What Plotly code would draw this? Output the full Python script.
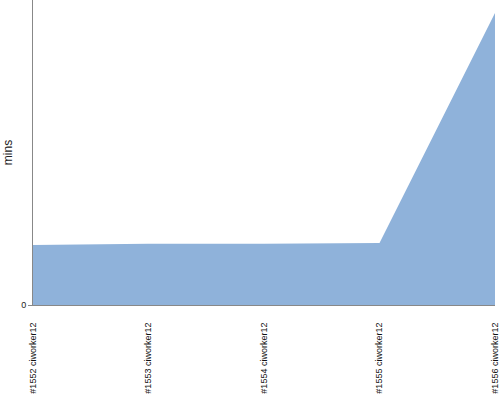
import plotly.graph_objects as go

builds = ["#1552", "#1553", "#1554", "#1555", "#1556"]
workers = ["ciworker12", "ciworker12", "ciworker12", "ciworker12", "ciworker12"]
mins = [60, 61.3, 61.3, 62, 292]

labels = [f"{b} {w}" for b, w in zip(builds, workers)]

fig = go.Figure()
fig.add_trace(go.Scatter(
    x=list(range(len(labels))), y=mins,
    mode="lines", fill="tozeroy",
    fillcolor="#8fb2da", line=dict(color="#8fb2da", width=0),
    hoverinfo="skip", showlegend=False,
))

fig.update_layout(
    width=500, height=400,
    margin=dict(l=33, r=5, t=0, b=95),
    paper_bgcolor="white", plot_bgcolor="white",
    font=dict(family="Liberation Sans, Arial, sans-serif", color="#222"),
)
fig.update_xaxes(
    range=[0, len(labels) - 1], automargin=False,
    tickmode="array", tickvals=list(range(len(labels))), ticktext=labels,
    tickangle=-90, tickfont=dict(size=9, color="#111"),
    showgrid=False, zeroline=False,
    showline=True, linecolor="#888", linewidth=1,
    ticks="outside", ticklen=13, tickcolor="rgba(0,0,0,0)",
)
fig.update_yaxes(
    range=[0, 305], automargin=False,
    tickmode="array", tickvals=[0], ticktext=["0"],
    tickfont=dict(size=9, color="#222"),
    ticks="outside", ticklen=4, tickcolor="#888",
    showgrid=False, zeroline=False,
    showline=True, linecolor="#888", linewidth=1,
    title=dict(text="mins", font=dict(size=12, color="#222"), standoff=5),
)

fig.write_html("out.html", config={"displayModeBar": False},
               post_script="document.body.style.margin='0';")
